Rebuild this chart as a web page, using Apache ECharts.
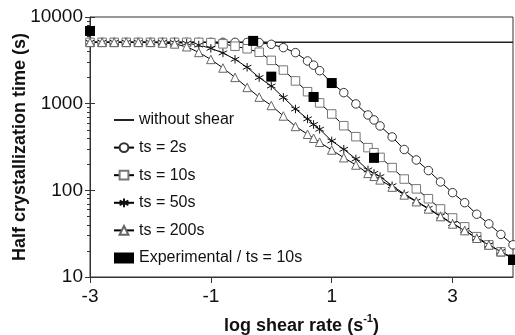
<!DOCTYPE html>
<html><head><meta charset="utf-8">
<script src="https://cdn.jsdelivr.net/npm/echarts@6/dist/echarts.min.js"></script>
<style>html,body{margin:0;padding:0;background:#fff}#c{width:515px;height:335px}</style>
</head><body><div id="c"></div>
<script>
// log10 of shear rate (s^-1)
const logShearRate = [-3, -2.8, -2.6, -2.4, -2.2, -2, -1.8, -1.6, -1.4, -1.2, -1, -0.8, -0.6, -0.4, -0.2,
  0, 0.2, 0.4, 0.6, 0.7, 0.8, 1, 1.2, 1.4, 1.6, 1.7, 1.8, 2, 2.2, 2.4, 2.6, 2.8, 3, 3.2, 3.4, 3.6, 3.8, 4];
// half crystallization time (s) for each shearing time
const ts2 = [5100, 5100, 5100, 5100, 5100, 5100, 5100, 5100, 5100, 5100, 5100, 5100, 5100, 5090, 5060,
  4840, 4430, 3880, 3110, 2780, 2400, 1730, 1340, 993, 741, 649, 553, 413, 296, 224, 169, 125, 94, 72, 53, 41, 31, 23.5];
const ts10 = [5100, 5100, 5100, 5100, 5100, 5100, 5100, 5100, 5100, 5100, 5060, 4900, 4600, 4300, 3920,
  3160, 2440, 1830, 1375, 1190, 1020, 760, 557, 416, 311, 272, 240, 183, 135, 104, 80, 61, 48, 37.9, 29.2, 23.5, 19.5, 16.2];
const ts50 = [5100, 5100, 5100, 5100, 5100, 5100, 5100, 5060, 4980, 4750, 4350, 3850, 3250, 2630, 2000,
  1600, 1180, 869, 667, 575, 507, 372, 298, 230, 172, 157, 144, 113, 91, 75, 62, 50.5, 41.5, 34.5, 28.2, 23.5, 19.7, 16.4];
const ts200 = [5100, 5100, 5100, 5100, 5100, 5100, 5010, 4890, 4540, 3900, 3240, 2580, 2010, 1540, 1190,
  953, 721, 546, 444, 399, 359, 292, 238, 196, 157, 145, 132, 109, 88.5, 74, 61, 49.8, 40.9, 34.3, 28, 23.4, 19.6, 16.5];
// without shear (quiescent) half time
const noShearX = [-3, 4];
const noShearY = [5100, 5100];
// experimental points, ts = 10 s
const expX = [-3, -0.3, 0, 0.7, 1, 1.7, 4];
const expY = [6900, 5300, 2050, 1195, 1730, 237, 15.7];
// axis ticks
const xTicks = [-3, -1, 1, 3];
const seriesNames = ['without shear', 'ts = 2s', 'ts = 10s', 'ts = 50s', 'ts = 200s', 'Experimental / ts = 10s'];

const FONT = 'Liberation Sans';
const pair = (xs, ys) => xs.map((x, i) => [x, ys[i]]);
const star = 'path://M5 0L5 10M0.67 2.5L9.33 7.5M0.67 7.5L9.33 2.5';

function curve(name, ys, symbol, color, fill) {
  return {
    name, type: 'line', data: pair(logShearRate, ys),
    symbol, symbolSize: 8.5, showSymbol: true,
    lineStyle: { color: '#000', width: 1 },
    itemStyle: { color: fill, borderColor: color, borderWidth: 1, opacity: 1 },
    z: 3
  };
}

const chart = echarts.init(document.getElementById('c'), null, { renderer: 'canvas' });
chart.setOption({
  animation: false,
  textStyle: { fontFamily: FONT, color: '#111' },
  grid: { left: 90, right: 2, top: 17, bottom: 58, show: true, borderColor: '#333', borderWidth: 1,
          containLabel: false, outerBoundsMode: 'none' },
  legend: {
    data: [
      { name: seriesNames[0], itemStyle: { opacity: 0 } },
      { name: seriesNames[1] }, { name: seriesNames[2] }, { name: seriesNames[3] },
      { name: seriesNames[4] }, { name: seriesNames[5] }
    ],
    orient: 'vertical', left: 108, top: 107,
    itemWidth: 20, itemHeight: 11, itemGap: 11.6,
    textStyle: { fontFamily: FONT, fontSize: 16, color: '#111' }
  },
  xAxis: {
    type: 'value', min: -3, max: 4,
    splitLine: { show: false },
    axisLine: { onZero: false, lineStyle: { color: '#333', width: 1 } },
    axisTick: { show: true, customValues: xTicks, length: 6, lineStyle: { color: '#333' } },
    axisLabel: { customValues: xTicks, fontSize: 19, fontFamily: FONT, color: '#111', margin: 10 },
    name: '{a|log shear rate (s}{s|-1}{a|)}',
    nameLocation: 'middle', nameGap: 36, nameMoveOverlap: false,
    nameTextStyle: {
      rich: {
        a: { fontFamily: FONT, fontSize: 18, fontWeight: 'bold', color: '#111', verticalAlign: 'bottom', lineHeight: 22 },
        s: { fontFamily: FONT, fontSize: 11, fontWeight: 'bold', color: '#111', verticalAlign: 'top', lineHeight: 22, padding: [0, 0, 8, 0] }
      }
    }
  },
  yAxis: [{
    type: 'log', logBase: 10, min: 10, max: 10000,
    splitLine: { show: false },
    axisLine: { onZero: false, lineStyle: { color: '#333', width: 1 } },
    axisTick: { show: true, length: 5, lineStyle: { color: '#333' } },
    minorTick: { show: true, splitNumber: 9, length: 3, lineStyle: { color: '#333' } },
    axisLabel: { fontSize: 19, fontFamily: FONT, color: '#111', margin: 7, formatter: v => String(v) },
    name: 'Half crystallization time (s)',
    nameLocation: 'middle', nameGap: 61, nameMoveOverlap: false,
    nameTextStyle: { fontFamily: FONT, fontSize: 18, fontWeight: 'bold', color: '#111' }
  }, {
    type: 'log', logBase: 10, min: 10, max: 10000, position: 'left',
    splitLine: { show: false },
    axisLine: { show: false, onZero: false },
    axisTick: { show: true, inside: true, length: 5, lineStyle: { color: '#333' } },
    axisLabel: { show: false }
  }],
  series: [
    {
      name: seriesNames[0], type: 'line', data: pair(noShearX, noShearY),
      symbol: 'none', showSymbol: false,
      lineStyle: { color: '#222', width: 1.5 }, itemStyle: { color: '#222' }, z: 2
    },
    curve(seriesNames[1], ts2, 'circle', '#333', '#fff'),
    curve(seriesNames[2], ts10, 'rect', '#777', '#fff'),
    curve(seriesNames[3], ts50, star, '#111', 'rgba(0,0,0,0)'),
    curve(seriesNames[4], ts200, 'triangle', '#666', '#fff'),
    {
      name: seriesNames[5], type: 'scatter', data: pair(expX, expY),
      symbol: 'rect', symbolSize: 10, itemStyle: { color: '#000', opacity: 1 }, z: 5
    }
  ]
});
</script></body></html>
